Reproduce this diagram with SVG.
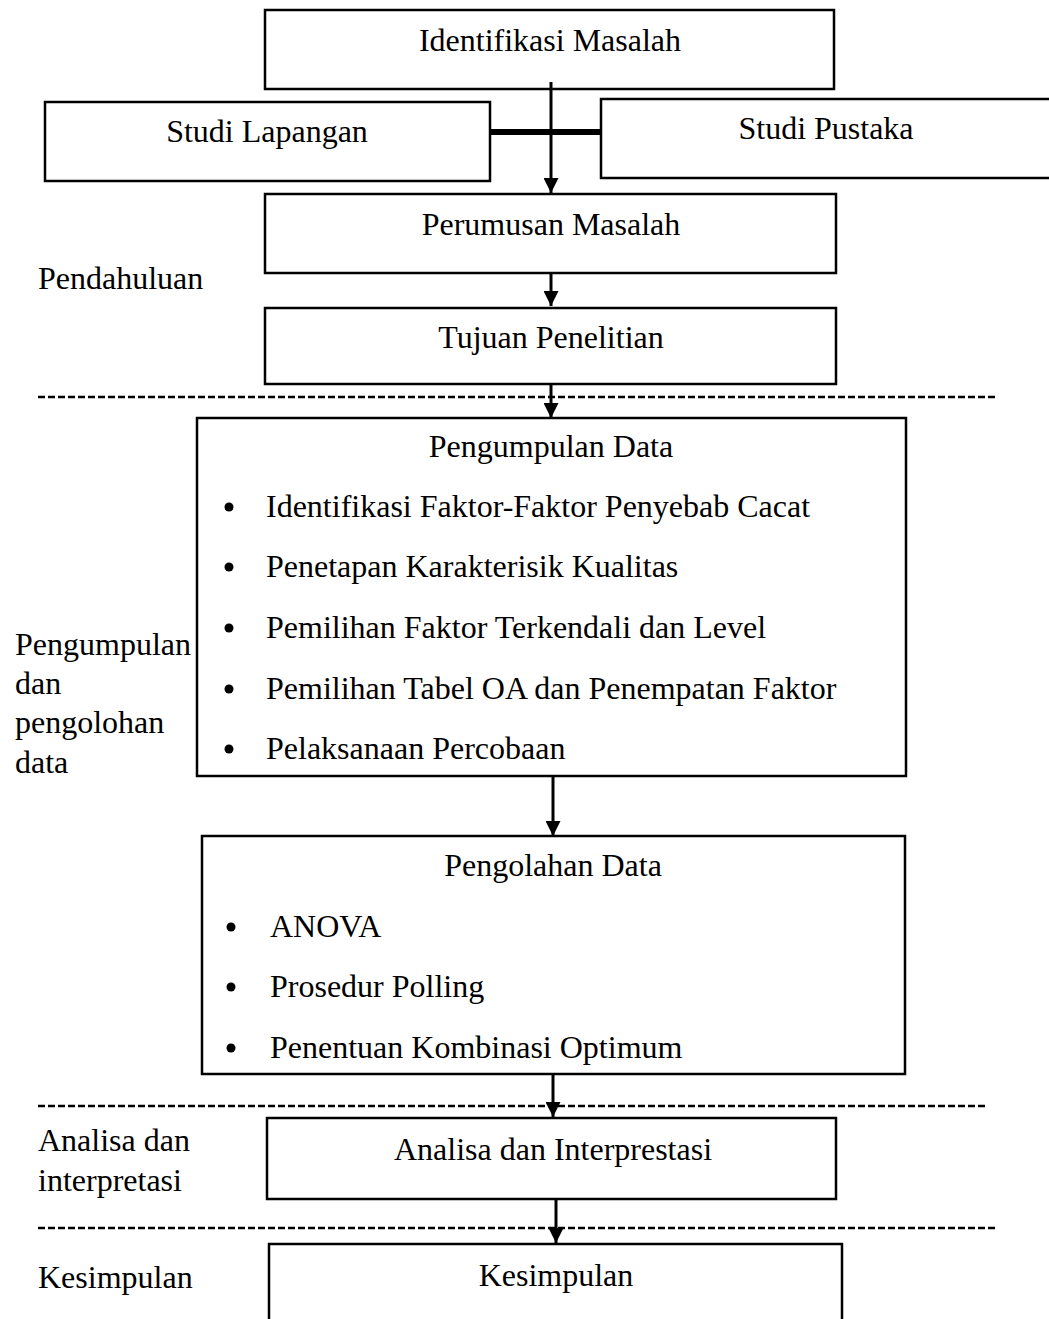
<svg xmlns="http://www.w3.org/2000/svg" width="1049" height="1319" viewBox="0 0 1049 1319">
<defs>
<marker id="ah" viewBox="0 0 10 10" refX="10" refY="5" markerWidth="5" markerHeight="5" orient="auto" markerUnits="strokeWidth">
<path d="M0,0 L10,5 L0,10 z" fill="#000"/>
</marker>
<style>
.box{fill:#fff;stroke:#000;stroke-width:2.5}
.t{font-family:"Liberation Serif","Times New Roman",serif;font-size:32px;fill:#000}
.c{text-anchor:middle}
.ln{stroke:#000;stroke-width:3;fill:none}
.dash{stroke:#000;stroke-width:2.5;stroke-dasharray:7 3;fill:none}
</style>
</defs>
<rect width="1049" height="1319" fill="#fff"/>
<g id="labels">
<text class="t" x="38" y="289">Pendahuluan</text>
<text class="t" x="15" y="655">Pengumpulan</text>
<text class="t" x="15" y="694">dan</text>
<text class="t" x="15" y="733">pengolohan</text>
<text class="t" x="15" y="773">data</text>
<text class="t" x="38" y="1151">Analisa dan</text>
<text class="t" x="38" y="1191">interpretasi</text>
<text class="t" x="38" y="1288">Kesimpulan</text>
</g>
<g id="separators">
<line class="dash" x1="38" y1="397" x2="996" y2="397"/>
<line class="dash" x1="38" y1="1106" x2="985" y2="1106"/>
<line class="dash" x1="38" y1="1228" x2="996" y2="1228"/>
</g>
<g id="n-identifikasi">
<rect class="box" x="265" y="10" width="569" height="79"/>
<text class="t c" x="550" y="51">Identifikasi Masalah</text>
</g>
<g id="n-lapangan">
<rect class="box" x="45" y="102" width="445" height="79"/>
<text class="t c" x="267" y="142">Studi Lapangan</text>
</g>
<g id="n-pustaka">
<rect class="box" x="601" y="99" width="460" height="79"/>
<text class="t c" x="826" y="139">Studi Pustaka</text>
</g>
<g id="n-perumusan">
<rect class="box" x="265" y="194" width="571" height="79"/>
<text class="t c" x="551" y="235">Perumusan Masalah</text>
</g>
<g id="n-tujuan">
<rect class="box" x="265" y="308" width="571" height="76"/>
<text class="t c" x="551" y="348">Tujuan Penelitian</text>
</g>
<g id="n-pengumpulan">
<rect class="box" x="197" y="418" width="709" height="358"/>
<text class="t c" x="551" y="457">Pengumpulan Data</text>
<circle cx="229" cy="507" r="4.5"/><text class="t" x="266" y="517">Identifikasi Faktor-Faktor Penyebab Cacat</text>
<circle cx="229" cy="567" r="4.5"/><text class="t" x="266" y="577">Penetapan Karakterisik Kualitas</text>
<circle cx="229" cy="628" r="4.5"/><text class="t" x="266" y="638">Pemilihan Faktor Terkendali dan Level</text>
<circle cx="229" cy="689" r="4.5"/><text class="t" x="266" y="699">Pemilihan Tabel OA dan Penempatan Faktor</text>
<circle cx="229" cy="749" r="4.5"/><text class="t" x="266" y="759">Pelaksanaan Percobaan</text>
</g>
<g id="n-pengolahan">
<rect class="box" x="202" y="836" width="703" height="238"/>
<text class="t c" x="553" y="876">Pengolahan Data</text>
<circle cx="231" cy="927" r="4.5"/><text class="t" x="270" y="937">ANOVA</text>
<circle cx="231" cy="987" r="4.5"/><text class="t" x="270" y="997">Prosedur Polling</text>
<circle cx="231" cy="1048" r="4.5"/><text class="t" x="270" y="1058">Penentuan Kombinasi Optimum</text>
</g>
<g id="n-analisa">
<rect class="box" x="267" y="1118" width="569" height="81"/>
<text class="t c" x="553" y="1160">Analisa dan Interprestasi</text>
</g>
<g id="n-kesimpulan">
<rect class="box" x="269" y="1244" width="573" height="90"/>
<text class="t c" x="556" y="1286">Kesimpulan</text>
</g>
<g id="connectors">
<line x1="490" y1="132" x2="601" y2="132" stroke="#000" stroke-width="6"/>
<line class="ln" x1="551" y1="82" x2="551" y2="193" marker-end="url(#ah)"/>
<line class="ln" x1="551" y1="273" x2="551" y2="306" marker-end="url(#ah)"/>
<line class="ln" x1="551" y1="384" x2="551" y2="418" marker-end="url(#ah)"/>
<line class="ln" x1="553" y1="776" x2="553" y2="836" marker-end="url(#ah)"/>
<line class="ln" x1="553" y1="1074" x2="553" y2="1117" marker-end="url(#ah)"/>
<line class="ln" x1="556" y1="1199" x2="556" y2="1243" marker-end="url(#ah)"/>
</g>
</svg>
